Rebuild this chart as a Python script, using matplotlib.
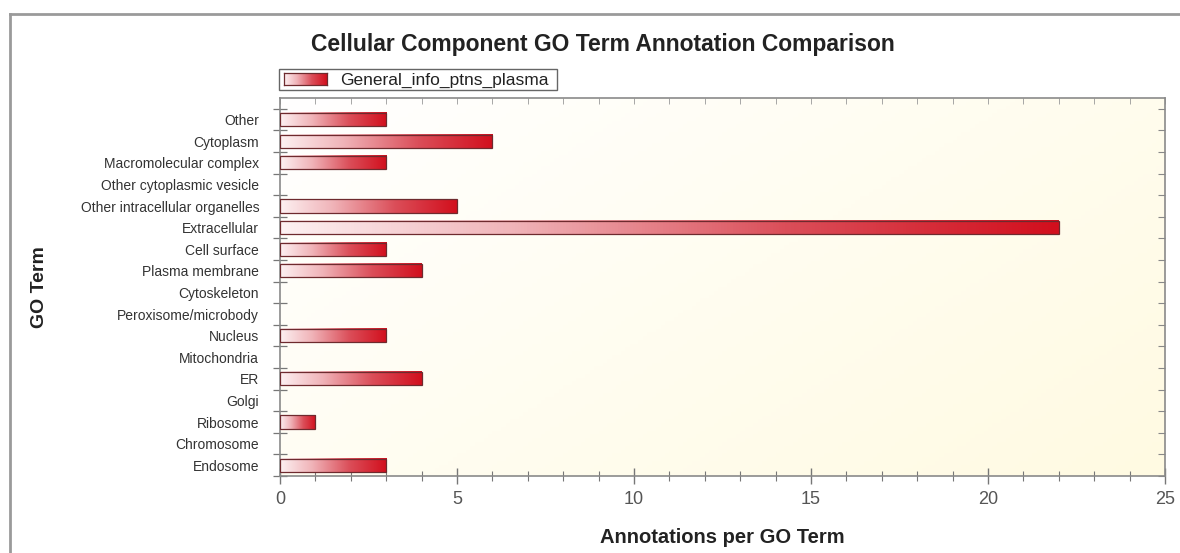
import numpy as np
import matplotlib
matplotlib.use('Agg')
import matplotlib.pyplot as plt
from matplotlib.colors import LinearSegmentedColormap
from matplotlib.patches import Rectangle
from matplotlib.lines import Line2D

# ---------------- data ----------------
categories = ["Other", "Cytoplasm", "Macromolecular complex", "Other cytoplasmic vesicle",
              "Other intracellular organelles", "Extracellular", "Cell surface",
              "Plasma membrane", "Cytoskeleton", "Peroxisome/microbody", "Nucleus",
              "Mitochondria", "ER", "Golgi", "Ribosome", "Chromosome", "Endosome"]
counts = [3, 6, 3, 0, 5, 22, 3, 4, 0, 0, 3, 0, 4, 0, 1, 0, 3]
series_name = "General_info_ptns_plasma"
title_text = "Cellular Component GO Term Annotation Comparison"
xlabel_text = "Annotations per GO Term"
ylabel_text = "GO Term"
x_major_ticks = [0, 5, 10, 15, 20, 25]

# ---------------- style ----------------
plt.rcParams['font.family'] = ['Liberation Sans', 'DejaVu Sans']
W, H = 1180, 553
fig = plt.figure(figsize=(W / 100, H / 100), dpi=100)
fig.patch.set_facecolor('white')

ax_l, ax_r, ax_t, ax_b = 280, 1165, 98, 476
ax = fig.add_axes([ax_l / W, 1 - ax_b / H, (ax_r - ax_l) / W, (ax_b - ax_t) / H])

# background gradient (white top-left -> light cream bottom-right)
gx, gy = np.meshgrid(np.linspace(0, 1, 200), np.linspace(0, 1, 100))
bgval = np.clip(0.6 * gx + 0.4 * gy, 0, 1)
bg_cmap = LinearSegmentedColormap.from_list('bg', ['#ffffff', '#fffdf0', '#fffae2'])
ax.imshow(bgval, cmap=bg_cmap, extent=[0, 1, 0, 1], transform=ax.transAxes,
          aspect='auto', zorder=0, origin='upper')

bar_cmap = LinearSegmentedColormap.from_list(
    'bar', [(0.0, '#fdf1f2'), (0.3, '#f0b3b8'), (0.65, '#db4e59'), (1.0, '#d20f1d')])

n = len(categories)
ypos = np.arange(n)[::-1]
bar_h = 0.62
bars = ax.barh(ypos, counts, height=bar_h, facecolor='none',
               edgecolor='#6e2a2e', linewidth=0.9, zorder=3)
grad = np.linspace(0, 1, 256).reshape(1, -1)
for b in bars:
    w = b.get_width()
    if w <= 0:
        b.set_visible(False)
        continue
    x0, y0, h = b.get_x(), b.get_y(), b.get_height()
    ax.imshow(grad, cmap=bar_cmap, extent=[x0, x0 + w, y0, y0 + h],
              aspect='auto', zorder=2, interpolation='bilinear')

ax.set_xlim(0, 25)
ax.set_ylim(-0.5, n)

# x axis
ax.set_xticks(x_major_ticks)
ax.set_xticks(np.arange(0, 26, 1), minor=True)
ax.tick_params(axis='x', which='major', direction='inout', length=12, width=1.0,
               color='#777777', labelsize=13, labelcolor='#555555', pad=5)
ax.tick_params(axis='x', which='minor', direction='inout', length=7, width=0.8,
               color='#777777')

# y axis: labels at centres, ticks at boundaries
ax.set_yticks(ypos)
ax.set_yticklabels(categories)
ax.set_yticks(np.arange(-0.5, n, 1), minor=True)
ax.tick_params(axis='y', which='major', length=0, labelsize=10,
               labelcolor='#333333', pad=15)
ax.tick_params(axis='y', which='minor', direction='inout', length=10, width=0.9,
               color='#777777')

# top / right inner ticks
secx = ax.secondary_xaxis('top')
secx.set_xticks(np.arange(0, 26, 1))
secx.tick_params(direction='in', length=4, width=0.6, color='#999999', labeltop=False)
secx.set_xticklabels([])
secx.spines['top'].set_visible(False)
secy = ax.secondary_yaxis('right')
secy.set_yticks(np.arange(-0.5, n, 1))
secy.tick_params(direction='in', length=5, width=0.8, color='#888888', labelright=False)
secy.set_yticklabels([])
secy.spines['right'].set_visible(False)

for s in ax.spines.values():
    s.set_color('#8a8a8a')
    s.set_linewidth(1.2)

ax.set_xlabel(xlabel_text, fontsize=14.5, fontweight='bold', color='#222222')
ax.xaxis.set_label_coords(0.5, (ax_b - 528) / (ax_b - ax_t))
ax.set_ylabel(ylabel_text, fontsize=14, fontweight='bold', color='#222222')
ax.yaxis.set_label_coords((48 - ax_l) / (ax_r - ax_l), 0.5)

fig.text(603 / W, 1 - 45 / H, title_text, fontsize=16.5, fontweight='bold',
         color='#222222', ha='center', va='center')

# legend (drawn manually so the swatch can show the gradient)
fig.patches.append(Rectangle((279 / W, 1 - 90 / H), (557 - 279) / W, 21 / H,
                             transform=fig.transFigure, fill=False,
                             edgecolor='#666666', linewidth=1.0))
lax = fig.add_axes([284 / W, 1 - 85 / H, 43 / W, 12 / H])
lax.imshow(grad, cmap=bar_cmap, aspect='auto', extent=[0, 1, 0, 1])
lax.set_xticks([]); lax.set_yticks([])
for s in lax.spines.values():
    s.set_color('#6e2a2e'); s.set_linewidth(0.9)
fig.text(340 / W, 1 - 80 / H, series_name, fontsize=12.5, color='#222222',
         ha='left', va='center')

# outer frame lines (top and left)
fig.lines.append(Line2D([10 / W, 1], [1 - 14 / H, 1 - 14 / H], transform=fig.transFigure,
                        color='#9a9a9a', linewidth=2))
fig.lines.append(Line2D([10 / W, 10 / W], [0, 1 - 14 / H], transform=fig.transFigure,
                        color='#9a9a9a', linewidth=2))

fig.savefig('out.png', dpi=100, facecolor='white')
